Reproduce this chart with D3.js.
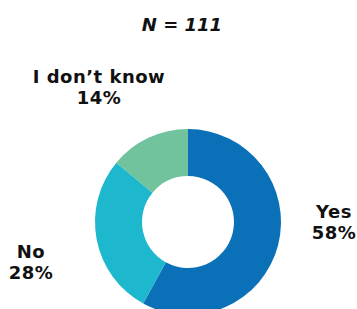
<!DOCTYPE html>
<html lang="en">
<head>
<meta charset="UTF-8">
<title>Donut</title>
<script src="https://d3js.org/d3.v7.min.js"></script>
<style>
  html, body { margin: 0; padding: 0; background: #fff; }
  svg text { font-family: "DejaVu Sans", sans-serif; font-weight: bold; fill: #111; }
</style>
</head>
<body>
<div id="chart"></div>
<script>
// chart data
const categories = ["Yes", "No", "I don\u2019t know"];
const values = [58, 28, 14];
const colors = ["#0A70B8", "#1EB8CE", "#70C39C"];
const title = "N = 111";

const width = 357, height = 309;
const cx = 188, cy = 222, outerR = 93, innerR = 46;

const svg = d3.select("#chart").append("svg")
    .attr("width", width)
    .attr("height", height);

svg.append("text")
    .attr("x", 182)
    .attr("y", 31)
    .attr("text-anchor", "middle")
    .attr("font-size", 18)
    .attr("font-style", "italic")
    .text(title);

const pie = d3.pie().sort(null).value(d => d);
const arc = d3.arc().innerRadius(innerR).outerRadius(outerR);

const g = svg.append("g").attr("transform", `translate(${cx},${cy})`);
g.selectAll("path")
    .data(pie(values))
    .join("path")
    .attr("d", arc)
    .attr("fill", (d, i) => colors[i]);

// label positions (anchor x, first baseline)
const labelPos = [
    {x: 334, y: 218},
    {x: 31, y: 258},
    {x: 99, y: 83}
];

categories.forEach((c, i) => {
    const t = svg.append("text")
        .attr("text-anchor", "middle")
        .attr("font-size", 18)
        .attr("letter-spacing", 0.5)
        .attr("x", labelPos[i].x)
        .attr("y", labelPos[i].y);
    t.append("tspan").attr("x", labelPos[i].x).text(c);
    t.append("tspan").attr("x", labelPos[i].x).attr("dy", 21).text(values[i] + "%");
});
</script>
</body>
</html>
